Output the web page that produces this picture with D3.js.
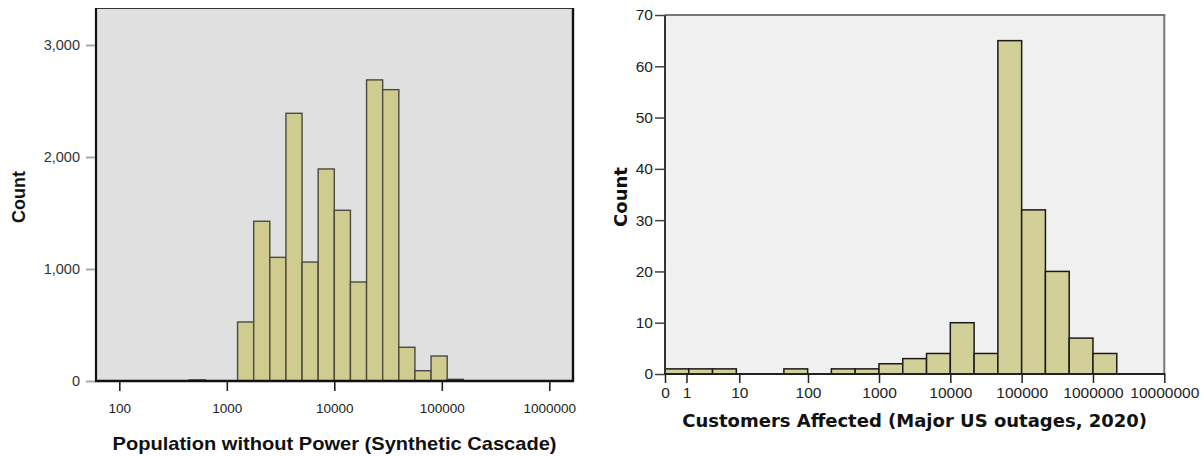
<!DOCTYPE html>
<html>
<head>
<meta charset="utf-8">
<script src="https://cdn.jsdelivr.net/npm/d3@7"></script>
<style>
  html, body { margin: 0; padding: 0; background: #ffffff; }
  svg { display: block; }
</style>
</head>
<body>
<svg id="chart" width="1203" height="456"></svg>
<script>
// ---------- DATA ----------
// Left histogram: Population without Power (Synthetic Cascade), log-spaced bins
const leftBinLo  = [447, 1259, 1778, 2512, 3548, 5012, 7079, 10000, 14125, 19953, 28184, 39811, 56234, 79433, 112202];
const leftBinHi  = [631, 1778, 2512, 3548, 5012, 7079, 10000, 14125, 19953, 28184, 39811, 56234, 79433, 112202, 158489];
const leftCounts = [10, 527, 1426, 1104, 2390, 1062, 1893, 1524, 884, 2688, 2601, 301, 92, 223, 15];
const leftXTicks = [100, 1000, 10000, 100000, 1000000];
const leftXTickLabels = ["100", "1000", "10000", "100000", "1000000"];
const leftYTicks = [0, 1000, 2000, 3000];
const leftYTickLabels = ["0", "1,000", "2,000", "3,000"];

// Right histogram: Customers Affected (Major US outages, 2020), bins on log10(x+1)
const rightBinLo  = [0, 1.15, 3.64, 45.4, 214, 463, 999, 2153, 4641, 9999, 21543, 46415, 99999, 215443, 464158, 999999];
const rightBinHi  = [1.15, 3.64, 9, 99, 463, 999, 2153, 4641, 9999, 21543, 46415, 99999, 215443, 464158, 999999, 2154434];
const rightCounts = [1, 1, 1, 1, 1, 1, 2, 3, 4, 10, 4, 65, 32, 20, 7, 4];
const rightXTicks = [0, 1, 10, 100, 1000, 10000, 100000, 1000000, 10000000];
const rightXTickLabels = ["0", "1", "10", "100", "1000", "10000", "100000", "1000000", "10000000"];
const rightYTicks = [0, 10, 20, 30, 40, 50, 60, 70];
const rightYTickLabels = ["0", "10", "20", "30", "40", "50", "60", "70"];

// ---------- DRAW ----------
const svg = d3.select("#chart");
const FONT = "'Liberation Sans', Arial, sans-serif";

// ===== Left panel =====
(function () {
  const L = 96, R = 573, T = 8, B = 381;
  const x = d3.scaleLog().domain([60.7, 1.661e6]).range([L, R]);
  const y = d3.scaleLinear().domain([0, 3330]).range([B, T]);
  const g = svg.append("g");

  g.append("rect").attr("x", L).attr("y", T).attr("width", R - L).attr("height", B - T)
    .attr("fill", "#e0e0e0");

  g.selectAll("rect.bar").data(leftCounts).enter().append("rect").attr("class", "bar")
    .attr("x", (d, i) => x(leftBinLo[i]))
    .attr("width", (d, i) => x(leftBinHi[i]) - x(leftBinLo[i]))
    .attr("y", d => y(d))
    .attr("height", d => B - y(d))
    .attr("fill", "#d0cb8f").attr("stroke", "#4a4a40").attr("stroke-width", 1.4);

  // frame
  g.append("line").attr("x1", L).attr("x2", R).attr("y1", T + 0.5).attr("y2", T + 0.5)
    .attr("stroke", "#333").attr("stroke-width", 1.2);
  g.append("line").attr("x1", L).attr("x2", L).attr("y1", T).attr("y2", B)
    .attr("stroke", "#111").attr("stroke-width", 2.2);
  g.append("line").attr("x1", R).attr("x2", R).attr("y1", T).attr("y2", B + 1)
    .attr("stroke", "#111").attr("stroke-width", 2.4);
  g.append("line").attr("x1", L - 1).attr("x2", R + 1).attr("y1", B).attr("y2", B)
    .attr("stroke", "#111").attr("stroke-width", 2.6);

  // y axis
  const ya = d3.axisLeft(y).tickValues(leftYTicks).tickSize(9).tickPadding(6)
    .tickFormat((d, i) => leftYTickLabels[i]);
  const yg = g.append("g").attr("transform", `translate(${L - 1},0)`).call(ya);
  yg.select(".domain").remove();
  yg.selectAll(".tick line").attr("stroke", "#aaaaaa").attr("stroke-width", 2);
  yg.selectAll(".tick text").attr("fill", "#333").style("font-family", FONT).style("font-size", "14.5px");

  // x axis
  const xa = d3.axisBottom(x).tickValues(leftXTicks).tickSize(9).tickPadding(12)
    .tickFormat((d, i) => leftXTickLabels[i]);
  const xg = g.append("g").attr("transform", `translate(0,${B + 1})`).call(xa);
  xg.select(".domain").remove();
  xg.selectAll(".tick line").attr("stroke", "#222").attr("stroke-width", 1.6);
  xg.selectAll(".tick text").attr("fill", "#222").style("font-family", FONT).style("font-size", "13.5px");

  g.append("text").attr("x", (L + R) / 2).attr("y", 450).attr("text-anchor", "middle")
    .style("font-family", FONT).style("font-size", "19px").style("font-weight", "bold")
    .attr("textLength", 444).attr("lengthAdjust", "spacingAndGlyphs")
    .attr("fill", "#111").text("Population without Power (Synthetic Cascade)");
  g.append("text").attr("transform", `translate(25,197) rotate(-90)`).attr("text-anchor", "middle")
    .style("font-family", FONT).style("font-size", "18px").style("font-weight", "bold")
    .attr("fill", "#111").text("Count");
})();

// ===== Right panel =====
(function () {
  const L = 665, R = 1164.3, T = 15, B = 374;
  const x = d3.scaleSymlog().constant(1).domain([0, 1e7]).range([L, R]);
  const y = d3.scaleLinear().domain([0, 70]).range([B, T]);
  const g = svg.append("g");

  g.append("rect").attr("x", L).attr("y", T).attr("width", R - L).attr("height", B - T)
    .attr("fill", "#f0f0f0");

  g.selectAll("rect.bar").data(rightCounts).enter().append("rect").attr("class", "bar")
    .attr("x", (d, i) => x(rightBinLo[i]))
    .attr("width", (d, i) => x(rightBinHi[i]) - x(rightBinLo[i]))
    .attr("y", d => y(d))
    .attr("height", d => B - y(d))
    .attr("fill", "#d3cf98").attr("stroke", "#1a1a1a").attr("stroke-width", 1.5);

  // frame
  g.append("line").attr("x1", L).attr("x2", R + 1).attr("y1", T).attr("y2", T)
    .attr("stroke", "#777").attr("stroke-width", 2);
  g.append("line").attr("x1", R).attr("x2", R).attr("y1", T).attr("y2", B)
    .attr("stroke", "#777").attr("stroke-width", 2);
  g.append("line").attr("x1", L).attr("x2", L).attr("y1", T).attr("y2", B)
    .attr("stroke", "#333").attr("stroke-width", 2);
  g.append("line").attr("x1", L - 1).attr("x2", R + 1).attr("y1", B).attr("y2", B)
    .attr("stroke", "#222").attr("stroke-width", 2);

  const ya = d3.axisLeft(y).tickValues(rightYTicks).tickSize(10).tickPadding(2)
    .tickFormat((d, i) => rightYTickLabels[i]);
  const yg = g.append("g").attr("transform", `translate(${L},0)`).call(ya);
  yg.select(".domain").remove();
  yg.selectAll(".tick line").attr("stroke", "#444").attr("stroke-width", 1.5);
  yg.selectAll(".tick text").attr("fill", "#222").style("font-family", FONT).style("font-size", "15.5px");

  const xa = d3.axisBottom(x).tickValues(rightXTicks).tickSize(9).tickPadding(4)
    .tickFormat((d, i) => rightXTickLabels[i]);
  const xg = g.append("g").attr("transform", `translate(0,${B})`).call(xa);
  xg.select(".domain").remove();
  xg.selectAll(".tick line").attr("stroke", "#222").attr("stroke-width", 1.5);
  xg.selectAll(".tick text").attr("fill", "#222").style("font-family", FONT).style("font-size", "15.5px");

  g.append("text").attr("x", (L + R) / 2).attr("y", 427).attr("text-anchor", "middle")
    .style("font-family", "'DejaVu Sans', Verdana, sans-serif").style("font-size", "18px").style("font-weight", "bold")
    .attr("fill", "#111").text("Customers Affected (Major US outages, 2020)");
  g.append("text").attr("transform", `translate(627,197) rotate(-90)`).attr("text-anchor", "middle")
    .style("font-family", "'DejaVu Sans', Verdana, sans-serif").style("font-size", "18px").style("font-weight", "bold")
    .attr("fill", "#111").text("Count");
})();
</script>
</body>
</html>
